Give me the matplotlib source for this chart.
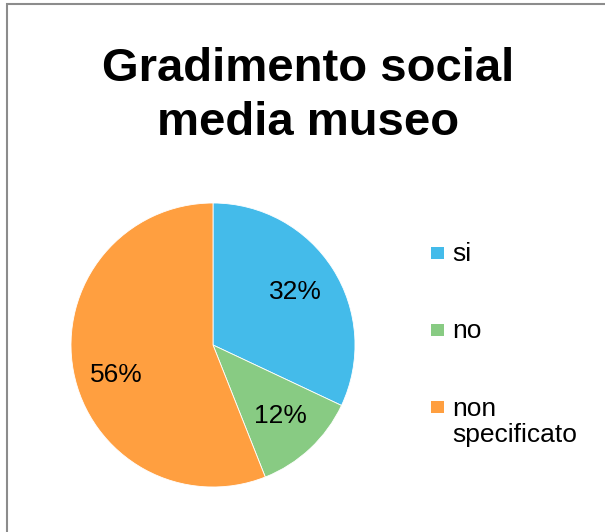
import matplotlib
matplotlib.use("Agg")
import matplotlib.pyplot as plt
from matplotlib.patches import Rectangle

plt.rcParams['font.family'] = ['Liberation Sans', 'DejaVu Sans']

# dati del grafico
titolo = "Gradimento social\nmedia museo"
categorie = ["si", "no", "non\nspecificato"]
percentuali = [32, 12, 56]
colori = ["#44BBEA", "#88CB83", "#FF9F40"]

W, H = 605, 532
fig = plt.figure(figsize=(W / 100, H / 100), dpi=100)
fig.patch.set_facecolor("white")

# cornice dell'area grafico (tagliata a destra e in basso)
fig.patches.append(Rectangle((7 / W, -0.1), 1.2, 1 - 4 / H + 0.1,
                             transform=fig.transFigure, fill=False,
                             edgecolor="#8c8c8c", linewidth=1.5))

# torta: centro (213, 345) px, raggio 142 px
cx, cy, r = 213, 345, 142
ax = fig.add_axes([(cx - r) / W, (H - cy - r) / H, 2 * r / W, 2 * r / H])
wedges, _, autotexts = ax.pie(
    percentuali, colors=colori, startangle=90, counterclock=False,
    autopct=lambda p: f"{p:.0f}%", pctdistance=0.69,
    wedgeprops=dict(edgecolor="white", linewidth=0.6),
    textprops=dict(fontsize=19, color="black"))
# etichetta del 56% un po' più in basso
x56, y56 = autotexts[2].get_position()
autotexts[2].set_position((x56, y56 - 0.085))
ax.set_xlim(-1, 1)
ax.set_ylim(-1, 1)
ax.set_aspect("equal")
ax.axis("off")

# titolo: la linea di base indicata è quella dell'ultima riga
fig.text(308 / W, 1 - 135 / H, titolo, ha="center", va="baseline",
         fontsize=34, fontweight="bold", linespacing=1.28)

# legenda a destra, quadratino allineato alla prima riga
righe_base = [261, 338, 415]
for cat, col, yb in zip(categorie, colori, righe_base):
    n_righe = cat.count("\n")
    fig.patches.append(Rectangle((431 / W, 1 - (yb - 2) / H), 13 / W, 12 / H,
                                 transform=fig.transFigure, facecolor=col,
                                 edgecolor="none"))
    fig.text(452 / W, 1 - (yb + 27 * n_righe) / H, cat, ha="left",
             va="baseline", fontsize=19, linespacing=1.08)

fig.savefig("out.png", dpi=100)
